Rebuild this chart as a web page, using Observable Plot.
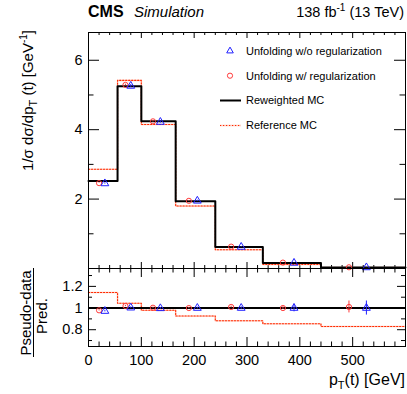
<!DOCTYPE html>
<html><head><meta charset="utf-8">
<script src="https://cdn.jsdelivr.net/npm/d3@7"></script>
<script src="https://cdn.jsdelivr.net/npm/@observablehq/plot@0.6"></script>
<style>
html,body{margin:0;padding:0;background:#fff;}
#c{position:relative;width:407px;height:394px;overflow:hidden;font-family:"Liberation Sans",Arial,Helvetica,sans-serif;}
#c svg{position:absolute;left:0;overflow:visible;}
</style></head><body><div id="c"></div>
<script>
// ---- data ----
const binEdges = [0, 55, 100, 165, 240, 330, 440, 600];
const reweightedMC = [2.52, 5.25, 4.24, 1.94, 0.62, 0.16, 0.03];
const referenceMC  = [2.86, 5.42, 4.15, 1.80, 0.54, 0.12, 0.03];
const refRatio     = [1.143, 1.044, 0.979, 0.926, 0.883, 0.855, 0.83];

const circleX   = [20, 70, 122, 190, 270, 368, 493];
const triangleX = [31, 80, 136, 206, 289, 389, 526];
const circleY   = [2.46, 5.29, 4.24, 1.95, 0.63, 0.17, 0.035];
const triangleY = [2.45, 5.26, 4.22, 1.95, 0.62, 0.16, 0.03];
const circleErr   = [0.01, 0.02, 0.02, 0.01, 0.006, 0.003, 0.003];
const triangleErr = [0.02, 0.04, 0.03, 0.02, 0.01, 0.006, 0.004];
const circleRatio   = [0.979, 1.019, 1.003, 1.0, 1.01, 1.0, 1.01];
const triangleRatio = [0.972, 1.003, 0.997, 1.0, 1.0, 1.0, 1.0];
const circleRatioErr   = [0.006, 0.006, 0.006, 0.006, 0.008, 0.012, 0.055];
const triangleRatioErr = [0.008, 0.008, 0.008, 0.008, 0.012, 0.035, 0.065];

const xMajorTicks = [0, 100, 200, 300, 400, 500, 600];
const xMinorTicks = [20,40,60,80,120,140,160,180,220,240,260,280,320,340,360,380,420,440,460,480,520,540,560,580];
const xTickLabels = [0, 100, 200, 300, 400, 500];
const yUpMajor = [2, 4, 6];
const yUpMinor = [1, 3, 5];
const yLoMajor = [0.8, 1.0, 1.2];
const yLoMinor = [0.7, 0.9, 1.1, 1.3];

// ---- layout ----
const W = 407, ML = 88, MR = 2, PW = W - ML - MR;
const UP = {top: 0, h: 269, mt: 32, mb: 1};
const LO = {top: 267, h: 127, mt: 1, mb: 48};
const H1 = UP.h - UP.mt - UP.mb, H2 = LO.h - LO.mt - LO.mb;
const RED = "#ff2a00", HALO = "#ffcfc4", BLUE = "#2020ff", CRED = "#ff3a3a";
const FONT = '"Liberation Sans", Arial, Helvetica, sans-serif';

function stepData(vals) {
  const d = vals.map((v, i) => ({x: binEdges[i], y: v}));
  d.push({x: binEdges[binEdges.length - 1], y: vals[vals.length - 1]});
  return d;
}
function pts(xs, ys, es) { return xs.map((x, i) => ({x, y: ys[i], e: es[i]})); }

function tickMarks(h, xMaj, xMin, yMaj, yMin, yMajL, yMinL, xMajL, xMinL) {
  const s = {stroke: "black", strokeWidth: 1};
  return [
    Plot.ruleX(xMaj, {x: d => d, insetTop: h - xMajL, ...s}),
    Plot.ruleX(xMin, {x: d => d, insetTop: h - xMinL, ...s}),
    Plot.ruleX(xMaj, {x: d => d, insetBottom: h - xMajL, ...s}),
    Plot.ruleX(xMin, {x: d => d, insetBottom: h - xMinL, ...s}),
    Plot.ruleY(yMaj, {y: d => d, insetRight: PW - yMajL, ...s}),
    Plot.ruleY(yMin, {y: d => d, insetRight: PW - yMinL, ...s}),
    Plot.ruleY(yMaj, {y: d => d, insetLeft: PW - yMajL, ...s}),
    Plot.ruleY(yMin, {y: d => d, insetLeft: PW - yMinL, ...s})
  ];
}
function refLines(vals) {
  return [
    Plot.line(stepData(vals), {x: "x", y: "y", curve: "step-after", stroke: HALO, strokeWidth: 1.6}),
    Plot.line(stepData(vals), {x: "x", y: "y", curve: "step-after", stroke: RED, strokeWidth: 1.1, strokeDasharray: "1.2,1.8"})
  ];
}

const c = document.getElementById("c");

const upper = Plot.plot({
  width: W, height: UP.h,
  marginLeft: ML, marginRight: MR, marginTop: UP.mt, marginBottom: UP.mb,
  style: {fontFamily: FONT, fontSize: "14px", background: "transparent", overflow: "visible"},
  x: {domain: [0, 600], axis: null},
  y: {domain: [0, 6.8]},
  marks: [
    ...tickMarks(H1, xMajorTicks, xMinorTicks, yUpMajor, yUpMinor, 11, 5.5, 6, 3),
    Plot.axisY({ticks: yUpMajor, tickSize: 0, tickPadding: 6, tickFormat: d => String(d), fontSize: 14.5, label: null}),
    ...refLines(referenceMC),
    Plot.line(stepData(reweightedMC), {x: "x", y: "y", curve: "step-after", stroke: "black", strokeWidth: 2}),
    Plot.ruleX(pts(circleX, circleY, circleErr), {x: "x", y1: d => d.y - d.e, y2: d => d.y + d.e, stroke: CRED}),
    Plot.ruleX(pts(triangleX, triangleY, triangleErr), {x: "x", y1: d => d.y - d.e, y2: d => d.y + d.e, stroke: BLUE}),
    Plot.dot(pts(circleX, circleY, circleErr), {x: "x", y: "y", r: 2.6, stroke: CRED, fill: "none", strokeWidth: 1}),
    Plot.dot(pts(triangleX, triangleY, triangleErr), {x: "x", y: "y", r: 2.9, symbol: "triangle", stroke: BLUE, fill: "none", strokeWidth: 1}),
    Plot.frame({stroke: "black", strokeWidth: 1})
  ]
});
upper.style.top = UP.top + "px";
c.appendChild(upper);

const lower = Plot.plot({
  width: W, height: LO.h,
  marginLeft: ML, marginRight: MR, marginTop: LO.mt, marginBottom: LO.mb,
  style: {fontFamily: FONT, fontSize: "14px", background: "transparent", overflow: "visible"},
  x: {domain: [0, 600]},
  y: {domain: [0.645, 1.365]},
  marks: [
    ...tickMarks(H2, xMajorTicks, xMinorTicks, yLoMajor, yLoMinor, 8, 4, 9, 4.5),
    Plot.axisY({ticks: yLoMajor, tickSize: 0, tickPadding: 6, tickFormat: d => String(d), fontSize: 14.5, label: null}),
    Plot.axisX({ticks: xTickLabels, tickSize: 0, tickPadding: 8, tickFormat: d => String(d), fontSize: 14.5, label: null}),
    ...refLines(refRatio),
    Plot.ruleY([1], {stroke: "black", strokeWidth: 2}),
    Plot.ruleX(pts(circleX, circleRatio, circleRatioErr), {x: "x", y1: d => d.y - d.e, y2: d => d.y + d.e, stroke: CRED}),
    Plot.ruleX(pts(triangleX, triangleRatio, triangleRatioErr), {x: "x", y1: d => d.y - d.e, y2: d => d.y + d.e, stroke: BLUE}),
    Plot.dot(pts(circleX, circleRatio, circleRatioErr), {x: "x", y: "y", r: 2.6, stroke: CRED, fill: "none", strokeWidth: 1}),
    Plot.dot(pts(triangleX, triangleRatio, triangleRatioErr), {x: "x", y: "y", r: 2.9, symbol: "triangle", stroke: BLUE, fill: "none", strokeWidth: 1}),
    Plot.frame({stroke: "black", strokeWidth: 1})
  ]
});
lower.style.top = LO.top + "px";
c.appendChild(lower);

// ---- overlay: titles, legend, axis titles ----
const NS = "http://www.w3.org/2000/svg";
const ov = document.createElementNS(NS, "svg");
ov.setAttribute("width", W); ov.setAttribute("height", 394);
ov.style.top = "0px"; ov.style.pointerEvents = "none";
ov.setAttribute("font-family", FONT);
ov.innerHTML = `
  <text x="88" y="17" font-size="16" font-weight="bold">CMS</text>
  <text x="134" y="17" font-size="15" font-style="italic">Simulation</text>
  <text x="404" y="17" font-size="14.5" text-anchor="end">138 fb<tspan font-size="10" dy="-6">-1</tspan><tspan dy="6"> (13 TeV)</tspan></text>

  <path d="M230,47.1 L233.3,52.9 L226.7,52.9 Z" fill="none" stroke="${BLUE}" stroke-width="1"/>
  <text x="246" y="54.5" font-size="11">Unfolding w/o regularization</text>
  <circle cx="230" cy="75.7" r="2.6" fill="none" stroke="${CRED}" stroke-width="1"/>
  <text x="246" y="79.5" font-size="11">Unfolding w/ regularization</text>
  <line x1="220" x2="241" y1="100.5" y2="100.5" stroke="black" stroke-width="2"/>
  <text x="246" y="104" font-size="11">Reweighted MC</text>
  <line x1="220" x2="241" y1="125.5" y2="125.5" stroke="${HALO}" stroke-width="1.6"/>
  <line x1="220" x2="241" y1="125.5" y2="125.5" stroke="${RED}" stroke-width="1.1" stroke-dasharray="1.2,1.8"/>
  <text x="246" y="129" font-size="11">Reference MC</text>

  <text transform="translate(33,30) rotate(-90)" text-anchor="end" font-size="15">1/σ dσ/dp<tspan font-size="11" dy="4">T</tspan><tspan dy="-4"> (t) [GeV</tspan><tspan font-size="10" dy="-6">-1</tspan><tspan dy="6">]</tspan></text>

  <text transform="translate(31,313) rotate(-90)" text-anchor="middle" font-size="15">Pseudo-data</text>
  <line x1="33.5" x2="33.5" y1="268" y2="357" stroke="black" stroke-width="1"/>
  <text transform="translate(47,316) rotate(-90)" text-anchor="middle" font-size="15">Pred.</text>

  <text x="405" y="385" text-anchor="end" font-size="16">p<tspan font-size="11" dy="4">T</tspan><tspan dy="-4">(t) [GeV]</tspan></text>
`;
c.appendChild(ov);
</script>
</body></html>
